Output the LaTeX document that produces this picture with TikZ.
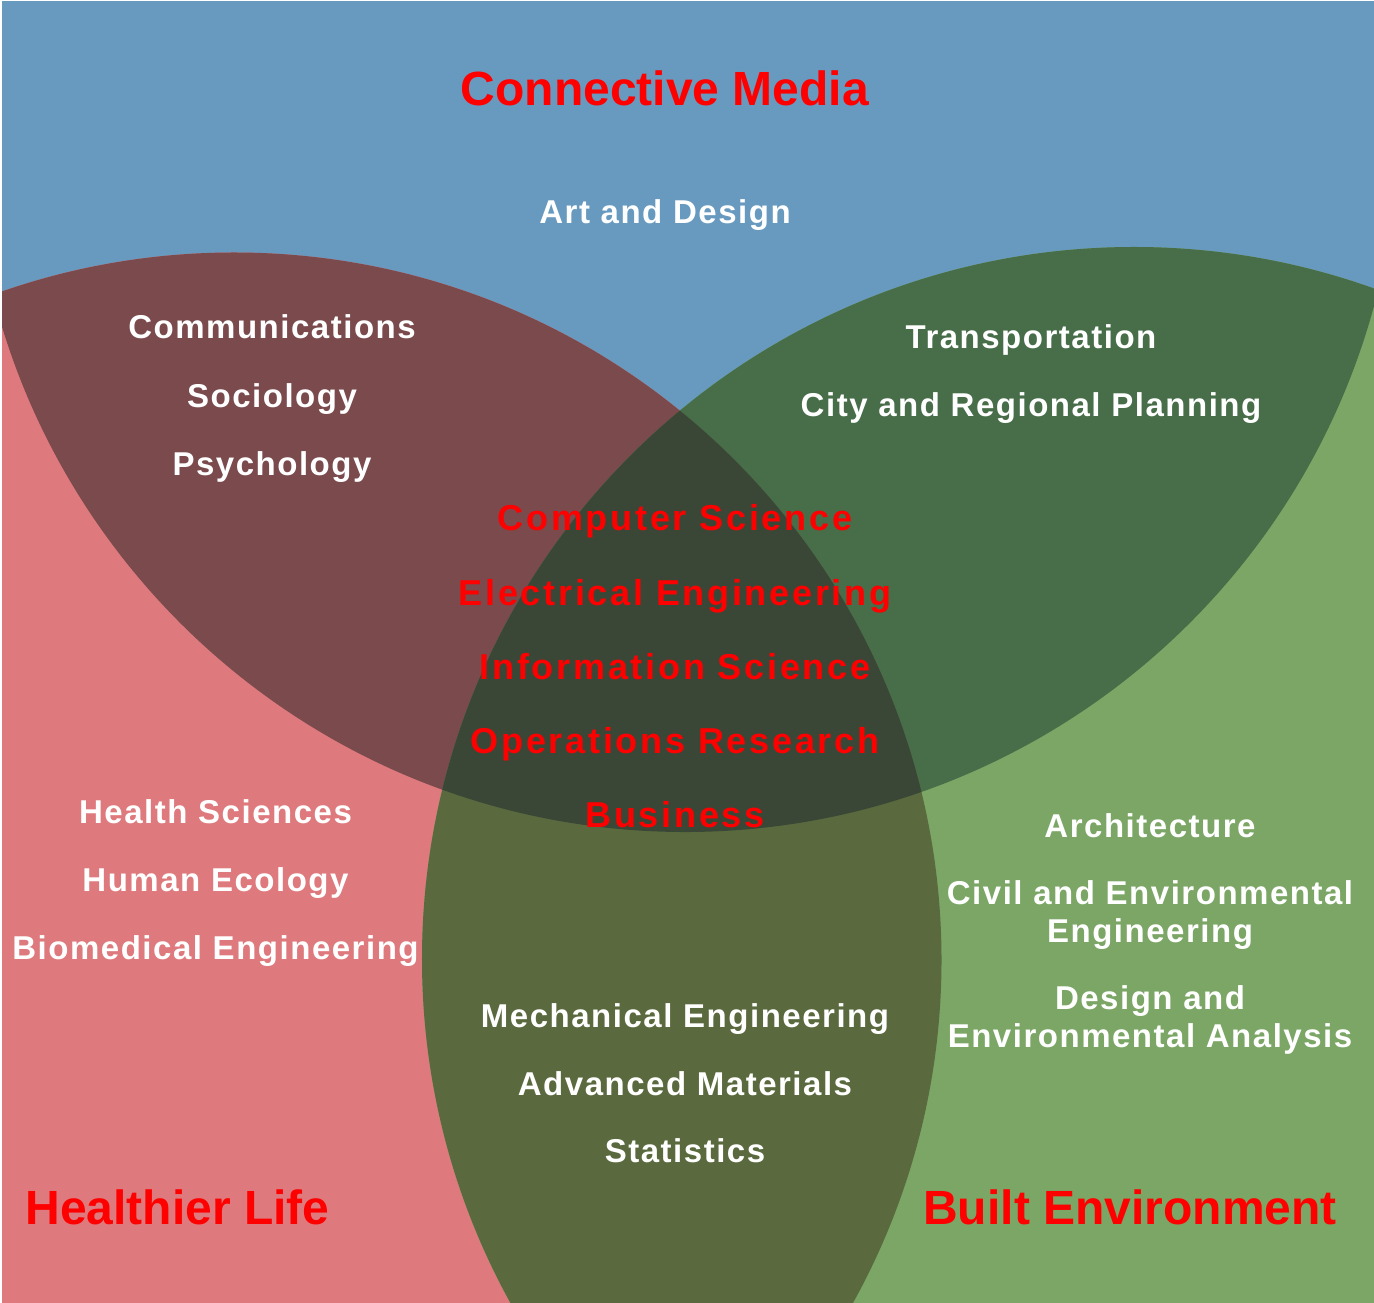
\documentclass[tikz,border=0pt]{standalone}
\usepackage{fontspec}
\setmainfont{Liberation Sans}
\newfontfamily\whitefont[LetterSpace=4.6]{Liberation Sans}
\newfontfamily\redfont[LetterSpace=7.6]{Liberation Sans}
\definecolor{cblue}{RGB}{104,154,192}
\definecolor{cpink}{RGB}{222,122,125}
\definecolor{cgreen}{RGB}{123,166,101}
\definecolor{cbp}{RGB}{122,74,77}
\definecolor{cbg}{RGB}{71,110,73}
\definecolor{cpg}{RGB}{90,106,62}
\definecolor{ccenter}{RGB}{58,71,55}
\tikzset{
  wlbl/.style={text=white, inner sep=0pt, anchor=base,
    font=\whitefont\bfseries\fontsize{33bp}{38bp}\selectfont},
  rlbl/.style={text=red, inner sep=0pt, anchor=base,
    font=\redfont\bfseries\fontsize{36bp}{41bp}\selectfont},
  ttl/.style={text=red, inner sep=0pt, anchor=base,
    font=\bfseries\fontsize{48bp}{55bp}\selectfont},
}
\begin{document}
\begin{tikzpicture}[x=1bp,y=-1bp]
\useasboundingbox (0,0) rectangle (1374,1303);
\fill[white] (0,0) rectangle (1374,1303);
\begin{scope}
  \clip (2,2) rectangle (1374,1303);
  % three sets
  \fill[cblue]  (685,118) circle[radius=714bp];
  \fill[cpink]  (234,960) circle[radius=707.5bp];
  \fill[cgreen] (1134,959) circle[radius=712bp];
  % pairwise overlaps
  \begin{scope}
    \clip (685,118) circle[radius=714bp];
    \fill[cbp] (234,960) circle[radius=707.5bp];
    \fill[cbg] (1134,959) circle[radius=712bp];
  \end{scope}
  \begin{scope}
    \clip (234,960) circle[radius=707.5bp];
    \fill[cpg] (1134,959) circle[radius=712bp];
  \end{scope}
  % triple overlap
  \begin{scope}
    \clip (685,118) circle[radius=714bp];
    \clip (234,960) circle[radius=707.5bp];
    \fill[ccenter] (1134,959) circle[radius=712bp];
  \end{scope}
\end{scope}

% titles
\node[ttl] (tcm) at (665,106) {Connective Media};
\node[ttl] (thl) at (177.5,1224) {Healthier Life};
\node[ttl] (tbe) at (1130,1224) {Built Environment};

% top
\node[wlbl] (art) at (665,224) {Art and Design};

% blue & pink
\node[wlbl] (com) at (272,339) {Communications};
\node[wlbl] (soc) at (272,407) {Sociology};
\node[wlbl] (psy) at (272,475) {Psychology};

% blue & green
\node[wlbl] (tra) at (1031,348) {Transportation};
\node[wlbl] (crp) at (1031,416) {City and Regional Planning};

% centre
\node[rlbl] (cs) at (675,530) {Computer Science};
\node[rlbl] (ee) at (675,605) {Electrical Engineering};
\node[rlbl] (is) at (675,679) {Information Science};
\node[rlbl] (orr) at (675,753) {Operations Research};
\node[rlbl] (bus) at (675,827) {Business};

% pink
\node[wlbl] (hs) at (215.5,823) {Health Sciences};
\node[wlbl] (he) at (215.5,891) {Human Ecology};
\node[wlbl] (bme) at (215.5,959) {Biomedical Engineering};

% green
\node[wlbl] (arc) at (1150,837) {Architecture};
\node[wlbl] (cee1) at (1150,904) {Civil and Environmental};
\node[wlbl] (cee2) at (1150,942) {Engineering};
\node[wlbl] (dea1) at (1150,1009) {Design and};
\node[wlbl] (dea2) at (1150,1047) {Environmental Analysis};

% pink & green
\node[wlbl] (me) at (685,1027) {Mechanical Engineering};
\node[wlbl] (am) at (685,1095) {Advanced Materials};
\node[wlbl] (st) at (685,1162) {Statistics};
\end{tikzpicture}
\end{document}
